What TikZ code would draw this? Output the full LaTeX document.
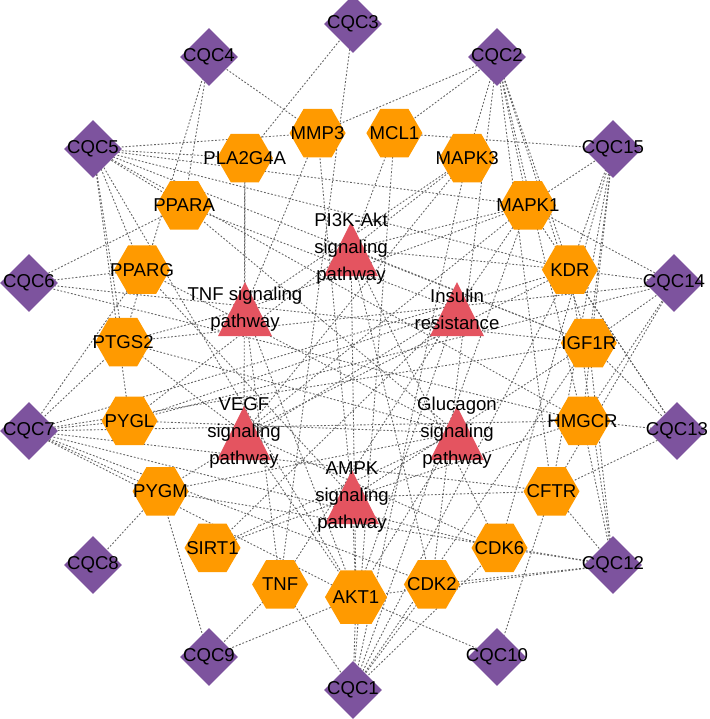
\documentclass[tikz,border=0pt]{standalone}
\usepackage{fontspec}
\setmainfont{Liberation Sans}
\usetikzlibrary{shapes.geometric,backgrounds}
\definecolor{cqcpurple}{RGB}{125,83,158}
\definecolor{geneorange}{RGB}{255,154,0}
\definecolor{pwred}{RGB}{228,84,96}
\definecolor{lnkgray}{RGB}{100,100,100}
\begin{document}
\begin{tikzpicture}[x=0.5pt,y=-0.5pt,
	font=\fontsize{9.3}{13.5}\selectfont,
	dia/.style={diamond, fill=cqcpurple, minimum width=29pt, minimum height=29pt, inner sep=0pt},
	hexa/.style={regular polygon, regular polygon sides=6, fill=geneorange, minimum size=28pt, inner sep=0pt},
	pw/.style={minimum width=27pt, minimum height=27pt, inner sep=0pt,
		path picture={\fill[pwred] (path picture bounding box.south west) -- (path picture bounding box.south east) -- (path picture bounding box.north) -- cycle;}},
	lnk/.style={draw=lnkgray, line width=0.45pt, dash pattern=on 0.9pt off 0.9pt}]
	\useasboundingbox (0,0) rectangle (709,719);
	% compounds
	\node[dia, label=center:CQC3] (cqc3) at (353,24) {};
	\node[dia, label=center:CQC4] (cqc4) at (209,57) {};
	\node[dia, label=center:CQC5] (cqc5) at (93,149) {};
	\node[dia, label=center:CQC6] (cqc6) at (29,283) {};
	\node[dia, label=center:CQC7] (cqc7) at (29,431) {};
	\node[dia, label=center:CQC8] (cqc8) at (93,565) {};
	\node[dia, label=center:CQC9] (cqc9) at (209,657) {};
	\node[dia, label=center:CQC1] (cqc1) at (353,690) {};
	\node[dia, label=center:CQC10] (cqc10) at (497,657) {};
	\node[dia, label=center:CQC12] (cqc12) at (613,565) {};
	\node[dia, label=center:CQC13] (cqc13) at (677,431) {};
	\node[dia, label=center:CQC14] (cqc14) at (674,283) {};
	\node[dia, label=center:CQC15] (cqc15) at (613,149) {};
	\node[dia, label=center:CQC2] (cqc2) at (497,57) {};
	% targets
	\node[hexa, label=center:MMP3] (mmp3) at (317.6,133.1) {};
	\node[hexa, label=center:PLA2G4A] (pla2g4a) at (244.8,158) {};
	\node[hexa, label=center:PPARA] (ppara) at (184.1,205.3) {};
	\node[hexa, label=center:PPARG] (pparg) at (142.1,269.7) {};
	\node[hexa, label=center:PTGS2] (ptgs2) at (123.2,342) {};
	\node[hexa, label=center:PYGL] (pygl) at (129.5,420.8) {};
	\node[hexa, label=center:PYGM] (pygm) at (160.5,491.3) {};
	\node[hexa, label=center:SIRT1] (sirt1) at (212.5,547.9) {};
	\node[hexa, label=center:TNF] (tnf) at (280.1,584.4) {};
	\node[hexa, minimum size=31pt, label=center:AKT1] (akt1) at (356,597.1) {};
	\node[hexa, label=center:CDK2] (cdk2) at (431.9,584.4) {};
	\node[hexa, label=center:CDK6] (cdk6) at (499.5,547.9) {};
	\node[hexa, label=center:CFTR] (cftr) at (551.5,491.3) {};
	\node[hexa, label=center:HMGCR] (hmgcr) at (582.5,420.8) {};
	\node[hexa, label=center:IGF1R] (igf1r) at (588.8,343) {};
	\node[hexa, label=center:KDR] (kdr) at (569.9,269.7) {};
	\node[hexa, label=center:MAPK1] (mapk1) at (527.9,205.3) {};
	\node[hexa, label=center:MAPK3] (mapk3) at (467.2,158) {};
	\node[hexa, label=center:MCL1] (mcl1) at (394.4,133.1) {};
	% pathways
	\node[pw, label={[align=center]center:{PI3K-Akt\\signaling\\pathway}}] (pi3k) at (351,249) {};
	\node[pw, label={[align=center]center:{TNF signaling\\pathway}}] (tnfsig) at (245,309) {};
	\node[pw, label={[align=center]center:{Insulin\\resistance}}] (insulin) at (457,309) {};
	\node[pw, label={[align=center]center:{VEGF\\signaling\\pathway}}] (vegf) at (244,433) {};
	\node[pw, label={[align=center]center:{Glucagon\\signaling\\pathway}}] (glucagon) at (457,433) {};
	\node[pw, label={[align=center]center:{AMPK\\signaling\\pathway}}] (ampk) at (352,497) {};
	% links
	\begin{scope}[on background layer]
		\foreach \a/\b in {cqc3/pla2g4a, cqc3/tnf,
			cqc4/ppara, cqc4/ptgs2, cqc4/mmp3,
			cqc5/mmp3, cqc5/pla2g4a, cqc5/ppara, cqc5/pparg, cqc5/ptgs2, cqc5/pygl, cqc5/kdr, cqc5/igf1r, cqc5/hmgcr, cqc5/akt1, cqc5/mapk1,
			cqc6/ppara, cqc6/pparg, cqc6/hmgcr, cqc6/igf1r,
			cqc7/ptgs2, cqc7/pparg, cqc7/pygl, cqc7/pygm, cqc7/hmgcr, cqc7/cftr, cqc7/cdk6, cqc7/akt1, cqc7/cdk2, cqc7/igf1r, cqc7/kdr,
			cqc8/pygm,
			cqc9/pygm, cqc9/tnf, cqc9/akt1,
			cqc1/akt1, cqc1/tnf, cqc1/mcl1, cqc1/mapk3, cqc1/mapk1, cqc1/kdr, cqc1/igf1r, cqc1/cdk2, cqc1/cdk6,
			cqc10/akt1, cqc10/cftr,
			cqc12/cdk6, cqc12/cdk2, cqc12/cftr, cqc12/hmgcr, cqc12/igf1r, cqc12/kdr, cqc12/akt1, cqc12/pygm,
			cqc13/hmgcr, cqc13/cftr, cqc13/igf1r, cqc13/kdr, cqc13/mapk1,
			cqc14/kdr, cqc14/mapk1, cqc14/igf1r, cqc14/hmgcr, cqc14/ptgs2, cqc14/cftr, cqc14/pygl,
			cqc15/mcl1, cqc15/mapk1, cqc15/kdr, cqc15/igf1r, cqc15/hmgcr, cqc15/cftr, cqc15/cdk6,
			cqc2/mmp3, cqc2/mcl1, cqc2/mapk3, cqc2/mapk1, cqc2/kdr, cqc2/igf1r, cqc2/hmgcr, cqc2/cftr, cqc2/cdk2,
			pi3k/akt1, pi3k/mapk1, pi3k/mapk3, pi3k/kdr, pi3k/igf1r, pi3k/mcl1, pi3k/cdk2, pi3k/cdk6, pi3k/pygl,
			tnfsig/tnf, tnfsig/mmp3, tnfsig/ptgs2, tnfsig/akt1, tnfsig/mapk1, tnfsig/mapk3, tnfsig/pla2g4a,
			insulin/akt1, insulin/ppara, insulin/pygl, insulin/pygm, insulin/tnf, insulin/mapk1, insulin/sirt1,
			vegf/kdr, vegf/pla2g4a, vegf/ptgs2, vegf/mapk1, vegf/mapk3, vegf/akt1, vegf/cdk6,
			glucagon/pygl, glucagon/pygm, glucagon/akt1, glucagon/sirt1, glucagon/ppara, glucagon/pparg, glucagon/ptgs2,
			ampk/sirt1, ampk/akt1, ampk/hmgcr, ampk/cftr, ampk/pparg, ampk/igf1r, ampk/mmp3}
			\draw[lnk] (\a.center) -- (\b.center);
	\end{scope}
\end{tikzpicture}
\end{document}
